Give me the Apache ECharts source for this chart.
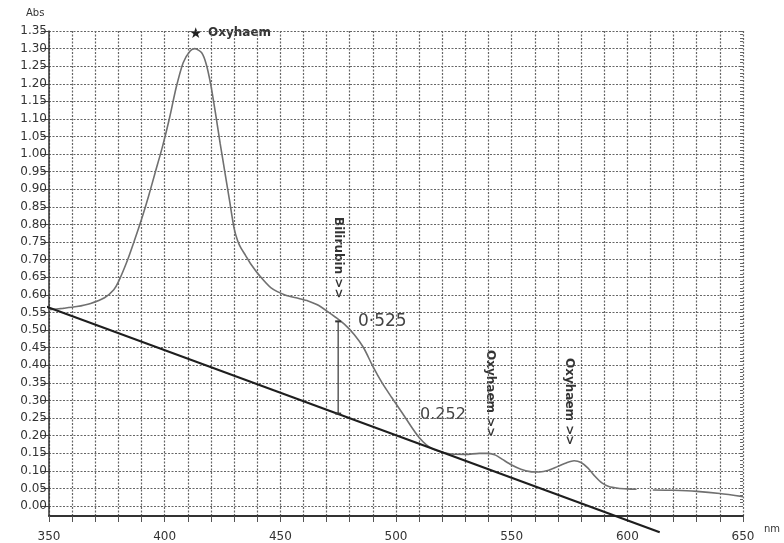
<!DOCTYPE html>
<html>
<head>
<meta charset="utf-8">
<script src="https://cdn.jsdelivr.net/npm/echarts@6/dist/echarts.min.js"></script>
<style>
  html, body { margin: 0; padding: 0; background: #fff; }
  #chart { width: 784px; height: 543px; }
</style>
</head>
<body>
<div id="chart"></div>
<script>
// spectrum (nm / Abs), '-' = gap in the trace
const wavelength = [350, 356, 362, 368, 374, 378, 380, 384, 387, 390, 393, 396, 399, 402, 405, 408, 411, 413, 416, 418, 420, 422, 424, 426, 428, 430, 431.5, 433, 435, 437, 441, 446, 452, 458, 462, 466, 470, 474, 478, 482, 486, 490, 494, 498, 503, 507, 510, 513, 516, 519, 524, 530, 536, 540, 543, 546, 550, 554, 558, 562, 566, 570, 574, 577, 580, 583, 586, 589, 592, 596, 600, 604, 607, 611, 620, 630, 640, 650]
const absorbance = [0.558, 0.562, 0.567, 0.576, 0.592, 0.615, 0.637, 0.70, 0.756, 0.815, 0.88, 0.95, 1.02, 1.10, 1.19, 1.26, 1.293, 1.30, 1.288, 1.255, 1.195, 1.115, 1.03, 0.95, 0.87, 0.79, 0.755, 0.733, 0.712, 0.69, 0.655, 0.62, 0.60, 0.59, 0.583, 0.572, 0.555, 0.536, 0.515, 0.487, 0.45, 0.397, 0.35, 0.31, 0.262, 0.222, 0.195, 0.175, 0.162, 0.155, 0.148, 0.147, 0.15, 0.15, 0.145, 0.133, 0.117, 0.105, 0.098, 0.097, 0.102, 0.113, 0.124, 0.129, 0.124, 0.108, 0.085, 0.066, 0.056, 0.051, 0.049, 0.048, '-', 0.046, 0.045, 0.042, 0.036, 0.027]

// hand drawn baseline and the bilirubin drop line
const baselineNm = [343, 614]
const baselineAbs = [0.581, -0.074]
const dropNm = [475, 475]
const dropAbs = [0.263, 0.525]

const font = 'DejaVu Sans'
const gridStyle = { color: '#666', type: [2, 1.5], width: 1.2 }

const zip = (xs, ys) => xs.map((x, i) => [x, ys[i]])

const options = {
  animation: false,
  grid: [
    // data grid, bottom edge is the drawn x axis
    { left: 49, right: 41, top: 31, bottom: 27 },
    // label grid, 0.00 sits a little above the x axis
    { left: 49, right: 41, top: 31, bottom: 37 }
  ],
  xAxis: [
    {
      gridIndex: 0,
      type: 'value',
      min: 350,
      max: 650,
      interval: 50,
      axisLine: { onZero: false, lineStyle: { color: '#333', width: 2 } },
      axisTick: { length: 6, lineStyle: { color: '#555' } },
      minorTick: { show: true, splitNumber: 5, length: 6, lineStyle: { color: '#555' } },
      splitLine: { show: true, lineStyle: gridStyle },
      minorSplitLine: { show: true, lineStyle: gridStyle },
      axisLabel: { color: '#333', fontSize: 12, fontFamily: font, margin: 15 }
    },
    { gridIndex: 1, type: 'value', min: 350, max: 650, show: false }
  ],
  yAxis: [
    {
      gridIndex: 0,
      type: 'value',
      min: -0.028,
      max: 1.35,
      axisLine: { show: true, lineStyle: { color: '#333', width: 1.5 } },
      axisTick: { show: false },
      axisLabel: { show: false },
      splitLine: { show: false }
    },
    {
      gridIndex: 1,
      type: 'value',
      min: 0,
      max: 1.35,
      interval: 0.05,
      axisLine: { show: false },
      axisTick: { show: true, length: 8, lineStyle: { color: '#444' } },
      axisLabel: {
        color: '#333',
        fontSize: 12,
        fontFamily: font,
        margin: 2,
        formatter: v => v.toFixed(2)
      },
      splitLine: { show: true, lineStyle: gridStyle }
    },
    {
      // small ticks along the inside of the y axis
      gridIndex: 1,
      type: 'value',
      min: 0,
      max: 1.35,
      interval: 0.01,
      axisLine: { show: false },
      axisTick: { show: true, inside: true, length: 3, lineStyle: { color: '#666' } },
      axisLabel: { show: false },
      splitLine: { show: false }
    }
  ],
  series: [
    {
      name: 'spectrum',
      type: 'line',
      data: zip(wavelength, absorbance),
      smooth: 0.25,
      showSymbol: false,
      lineStyle: { color: '#707070', width: 1.6 }
    },
    {
      name: 'baseline',
      type: 'line',
      data: zip(baselineNm, baselineAbs),
      clip: false,
      showSymbol: false,
      lineStyle: { color: '#1e1e1e', width: 2.2 }
    },
    {
      name: 'drop',
      type: 'line',
      data: zip(dropNm, dropAbs),
      symbol: 'rect',
      symbolSize: [6, 2],
      itemStyle: { color: '#333' },
      lineStyle: { color: '#444', width: 1.3 }
    }
  ],
  graphic: [
    { type: 'text', left: 26, top: 8, style: { text: 'Abs', fontSize: 10, fontFamily: font, fill: '#333' } },
    { type: 'text', left: 764, top: 524, style: { text: 'nm', fontSize: 10, fontFamily: font, fill: '#333' } },
    { type: 'text', x: 195, y: 34, style: { text: '★', fontSize: 15, fill: '#222', align: 'center', verticalAlign: 'middle' } },
    { type: 'text', x: 208, y: 33, style: { text: 'Oxyhaem', fontSize: 12, fontWeight: 'bold', fontFamily: font, fill: '#333', verticalAlign: 'middle' } },
    { type: 'text', x: 338, y: 217, rotation: -Math.PI / 2, style: { text: 'Bilirubin >>', fontSize: 12, fontWeight: 'bold', fontFamily: font, fill: '#333', verticalAlign: 'middle' } },
    { type: 'text', x: 490, y: 350, rotation: -Math.PI / 2, style: { text: 'Oxyhaem >>', fontSize: 12, fontWeight: 'bold', fontFamily: font, fill: '#333', verticalAlign: 'middle' } },
    { type: 'text', x: 569, y: 358, rotation: -Math.PI / 2, style: { text: 'Oxyhaem >>', fontSize: 12, fontWeight: 'bold', fontFamily: font, fill: '#333', verticalAlign: 'middle' } },
    // handwritten readings
    { type: 'text', x: 358, y: 322, style: { text: '0·525', fontSize: 17, fontFamily: font, fill: '#444', verticalAlign: 'middle' } },
    { type: 'text', x: 420, y: 415, style: { text: '0.252', fontSize: 16, fontFamily: font, fill: '#444', verticalAlign: 'middle' } }
  ]
}

const chart = echarts.init(document.getElementById('chart'))
chart.setOption(options)
window.addEventListener('resize', function () {
  chart && chart.resize()
})
</script>
</body>
</html>
